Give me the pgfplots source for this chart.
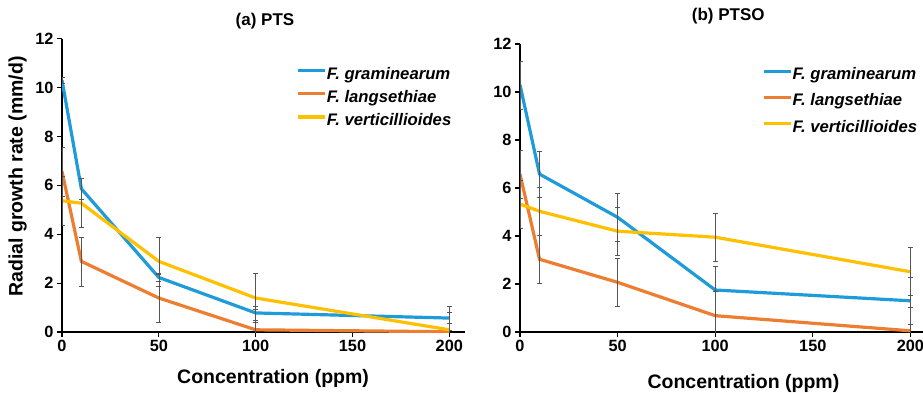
\documentclass[border=0pt]{standalone}
\usepackage{pgfplots}
\pgfplotsset{compat=1.18}
\usepackage{fontspec}
\setmainfont{Liberation Sans}

\definecolor{cblue}{RGB}{31,155,217}
\definecolor{corange}{RGB}{237,125,49}
\definecolor{cyellow}{RGB}{255,192,0}
\definecolor{errgray}{RGB}{85,85,85}

\pgfplotsset{
  growth/.style={
    scale only axis,
    axis lines=left,
    axis line style={-, line width=1.4pt},
    xmin=0, ymin=0, ymax=12,
    xtick={0,50,100,150,200},
    ytick={0,2,...,12},
    tick align=outside,
    major tick length=5pt,
    tick style={black, line width=1.2pt},
    ticklabel style={font=\bfseries\fontsize{16.3}{18}\selectfont},
    /pgf/number format/assume math mode=true,
    label style={font=\bfseries\fontsize{19.5}{22}\selectfont},
    title style={font=\bfseries\fontsize{17}{20}\selectfont, anchor=center},
    legend style={draw=none, fill=none, anchor=north west,
      font=\bfseries\itshape\fontsize{16.7}{18}\selectfont,
      inner sep=0pt, column sep=0pt, nodes={inner sep=0.5pt}},
    legend cell align=left,
    legend image code/.code={\draw[#1, line width=3.2pt] (0pt,0.33em) -- (27pt,0.33em);},
    no markers,
  },
  errs/.style={line width=3.2pt,
    error bars/.cd, y dir=both, y explicit,
    error bar style={errgray, line width=0.6pt},
    error mark options={errgray, rotate=90, mark size=2.5pt, line width=0.6pt}},
}

\begin{document}
\begin{tikzpicture}
% (a) PTS
\begin{axis}[growth,
  at={(62pt,60pt)}, anchor=south west,
  width=402.8pt, height=293.3pt, xmax=208,
  title={(a) PTS}, title style={at={(axis description cs:0.504,1.038)}},
  xlabel={Concentration (ppm)},
  xlabel style={at={(axis description cs:0.524,-0.157)}, anchor=center},
  ylabel={Radial growth rate (mm/d)},
  ylabel style={at={(axis description cs:-0.11,0.53)}, anchor=center, rotate=0},
  legend style={at={(axis description cs:0.581,0.905)}, row sep=8.5pt},
]
\addplot[cblue, errs] coordinates {
  (0,10.3) +- (0,0.12) (10,5.86) +- (0,0.42) (50,2.23) +- (0,0.15)
  (100,0.78) +- (0,0.29) (200,0.57) +- (0,0.5)};
\addlegendentry{F. graminearum}
\addplot[corange, errs] coordinates {
  (0,6.57) +- (0,1.0) (10,2.89) +- (0,1.0) (50,1.39) +- (0,1.0)
  (100,0.09) +- (0,0.85) (200,0.01) +- (0,0.35)};
\addlegendentry{F. langsethiae}
\addplot[cyellow, errs] coordinates {
  (0,5.37) +- (0,1.0) (10,5.27) +- (0,1.0) (50,2.89) +- (0,1.0)
  (100,1.39) +- (0,1.0) (200,0.09) +- (0,0.7)};
\addlegendentry{F. verticillioides}
\end{axis}

% (b) PTSO
\begin{axis}[growth,
  at={(520pt,60pt)}, anchor=south west,
  width=409.9pt, height=288pt, xmax=210,
  title={(b) PTSO}, title style={at={(axis description cs:0.508,1.077)}},
  xlabel={Concentration (ppm)},
  xlabel style={at={(axis description cs:0.545,-0.177)}, anchor=center},
  legend style={at={(axis description cs:0.59,0.92)}, row sep=11.5pt},
]
\addplot[cblue, errs] coordinates {
  (0,10.3) +- (0,1.0) (10,6.58) +- (0,0.96) (50,4.78) +- (0,1.0)
  (100,1.75) +- (0,1.0) (200,1.3) +- (0,0.97)};
\addlegendentry{F. graminearum}
\addplot[corange, errs] coordinates {
  (0,6.58) +- (0,1.0) (10,3.03) +- (0,1.0) (50,2.07) +- (0,1.0)
  (100,0.68) +- (0,1.0) (200,0.05) +- (0,1.0)};
\addlegendentry{F. langsethiae}
\addplot[cyellow, errs] coordinates {
  (0,5.33) +- (0,1.0) (10,5.03) +- (0,1.0) (50,4.2) +- (0,1.0)
  (100,3.95) +- (0,1.0) (200,2.51) +- (0,1.0)};
\addlegendentry{F. verticillioides}
\end{axis}

\pgfresetboundingbox
\path[use as bounding box] (0pt,0pt) rectangle (923pt,392pt);
\end{tikzpicture}
\end{document}
